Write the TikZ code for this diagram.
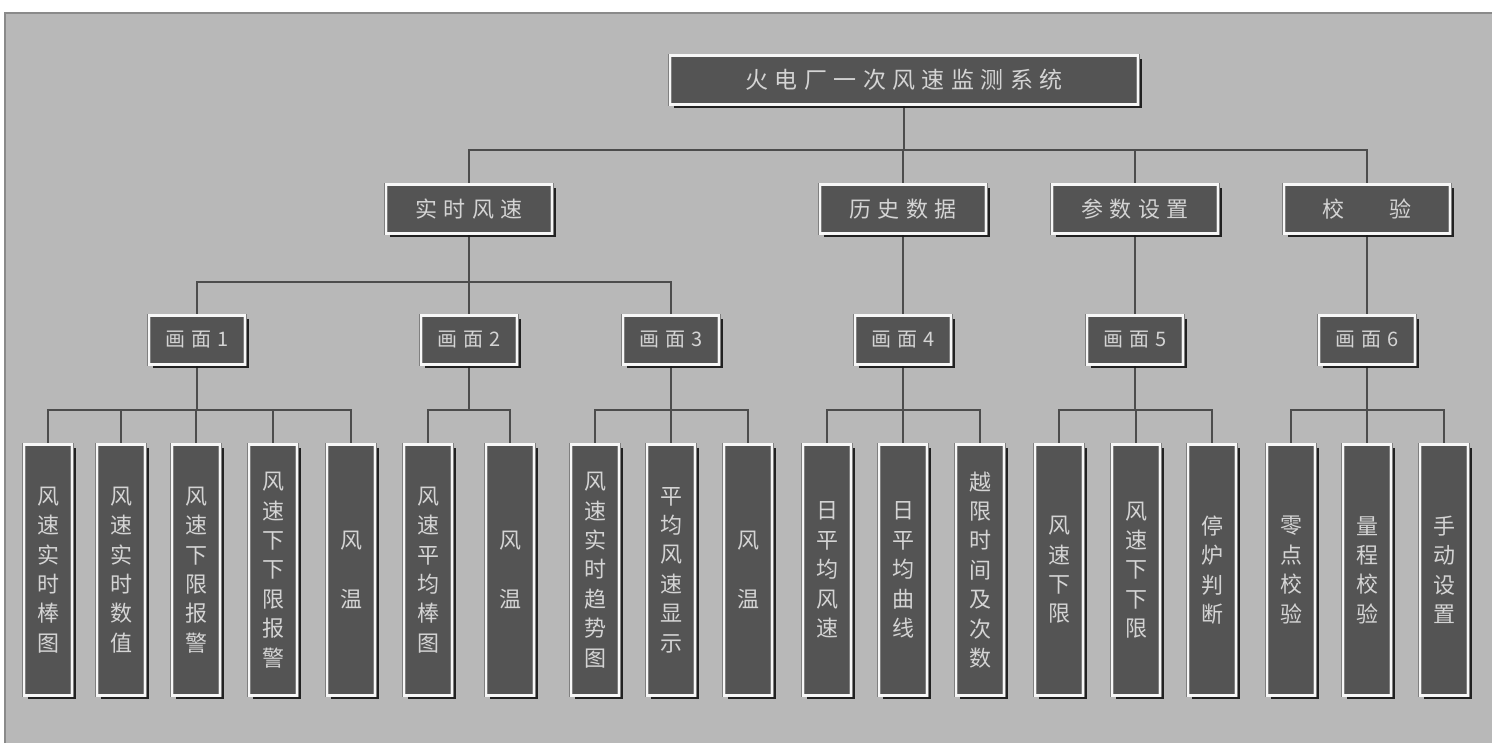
\documentclass[tikz,border=0pt]{standalone}
\usepackage{fontspec}
\newfontfamily\cjk{Noto Sans CJK SC}
\newfontfamily\cjkls{Noto Sans CJK SC}[LetterSpace=28]
\usetikzlibrary{shadows,backgrounds}
\definecolor{panel}{HTML}{B8B8B8}
\definecolor{paneledge}{HTML}{8A8A8A}
\definecolor{boxfill}{HTML}{545454}
\definecolor{boxtext}{HTML}{D4D4D4}
\definecolor{linec}{HTML}{4C4C4C}
\begin{document}
\begin{tikzpicture}[x=1pt,y=-1pt,
  box/.style={fill=boxfill, draw=black!50, double=white!94!gray, double distance=2.6pt,
    line width=0.5pt, text=boxtext, inner sep=0pt, outer sep=0pt,
    drop shadow={shadow xshift=3.5pt,shadow yshift=-3.5pt,fill=black!90,opacity=0.95}},
  titlebox/.style={box, minimum width=468pt, minimum height=49pt,
    font=\cjkls\fontsize{23}{27}\selectfont},
  lvtwo/.style={box, minimum width=166pt, minimum height=49pt,
    font=\cjkls\fontsize{22}{26}\selectfont},
  lvthree/.style={box, minimum width=96pt, minimum height=49pt,
    font=\cjkls\fontsize{20}{24}\selectfont},
  leafbox/.style={box, minimum width=48pt, minimum height=251pt, align=center,
    font=\cjk\fontsize{22}{29.4}\selectfont},
  conn/.style={draw=linec, line width=1.3pt}
]
\useasboundingbox (0,0) rectangle (1496,746);

% nodes
\node[titlebox] (sys) at (904,80) {火电厂一次风速监测系统};

\node[lvtwo] (rt) at (469,209) {实时风速};
\node[lvtwo] (ls) at (903,209) {历史数据};
\node[lvtwo] (cs) at (1135,209) {参数设置};
\node[lvtwo] (jy) at (1367,209) {校\hspace{46pt}验};

\node[lvthree] (p1) at (197,340) {画面1};
\node[lvthree] (p2) at (469,340) {画面2};
\node[lvthree] (p3) at (671,340) {画面3};
\node[lvthree] (p4) at (903,340) {画面4};
\node[lvthree] (p5) at (1135,340) {画面5};
\node[lvthree] (p6) at (1367,340) {画面6};

\node[leafbox] (l1) at (48,570) {风\\速\\实\\时\\棒\\图};
\node[leafbox] (l2) at (121,570) {风\\速\\实\\时\\数\\值};
\node[leafbox] (l3) at (196,570) {风\\速\\下\\限\\报\\警};
\node[leafbox] (l4) at (273,570) {风\\速\\下\\下\\限\\报\\警};
\node[leafbox] (l5) at (351,570) {风\\[29.4pt]温};
\node[leafbox] (l6) at (428,570) {风\\速\\平\\均\\棒\\图};
\node[leafbox] (l7) at (510,570) {风\\[29.4pt]温};
\node[leafbox] (l8) at (595,570) {风\\速\\实\\时\\趋\\势\\图};
\node[leafbox] (l9) at (671,570) {平\\均\\风\\速\\显\\示};
\node[leafbox] (l10) at (748,570) {风\\[29.4pt]温};
\node[leafbox] (l11) at (827,570) {日\\平\\均\\风\\速};
\node[leafbox] (l12) at (903,570) {日\\平\\均\\曲\\线};
\node[leafbox] (l13) at (980,570) {越\\限\\时\\间\\及\\次\\数};
\node[leafbox] (l14) at (1059,570) {风\\速\\下\\限};
\node[leafbox] (l15) at (1136,570) {风\\速\\下\\下\\限};
\node[leafbox] (l16) at (1212,570) {停\\炉\\判\\断};
\node[leafbox] (l17) at (1291,570) {零\\点\\校\\验};
\node[leafbox] (l18) at (1367,570) {量\\程\\校\\验};
\node[leafbox] (l19) at (1444,570) {手\\动\\设\\置};

\coordinate (b0) at (0,150);
\coordinate (b1) at (0,282);
\coordinate (b2) at (0,410);

\begin{scope}[on background layer]
  \fill[panel] (5,13) rectangle (1492,743);
  \draw[paneledge, line width=1.2pt] (5,743) -- (5,13) -- (1492,13);
  % level 1
  \foreach \c in {rt,ls,cs,jy}
    \draw[conn] (sys.south) |- (\c.north |- b0) -- (\c.north);
  % level 2
  \foreach \c in {p1,p2,p3}
    \draw[conn] (rt.south) |- (\c.north |- b1) -- (\c.north);
  \draw[conn] (ls.south) -- (p4.north);
  \draw[conn] (cs.south) -- (p5.north);
  \draw[conn] (jy.south) -- (p6.north);
  % level 3
  \foreach \c in {l1,l2,l3,l4,l5}
    \draw[conn] (p1.south) |- (\c.north |- b2) -- (\c.north);
  \foreach \c in {l6,l7}
    \draw[conn] (p2.south) |- (\c.north |- b2) -- (\c.north);
  \foreach \c in {l8,l9,l10}
    \draw[conn] (p3.south) |- (\c.north |- b2) -- (\c.north);
  \foreach \c in {l11,l12,l13}
    \draw[conn] (p4.south) |- (\c.north |- b2) -- (\c.north);
  \foreach \c in {l14,l15,l16}
    \draw[conn] (p5.south) |- (\c.north |- b2) -- (\c.north);
  \foreach \c in {l17,l18,l19}
    \draw[conn] (p6.south) |- (\c.north |- b2) -- (\c.north);
\end{scope}
\end{tikzpicture}
\end{document}
